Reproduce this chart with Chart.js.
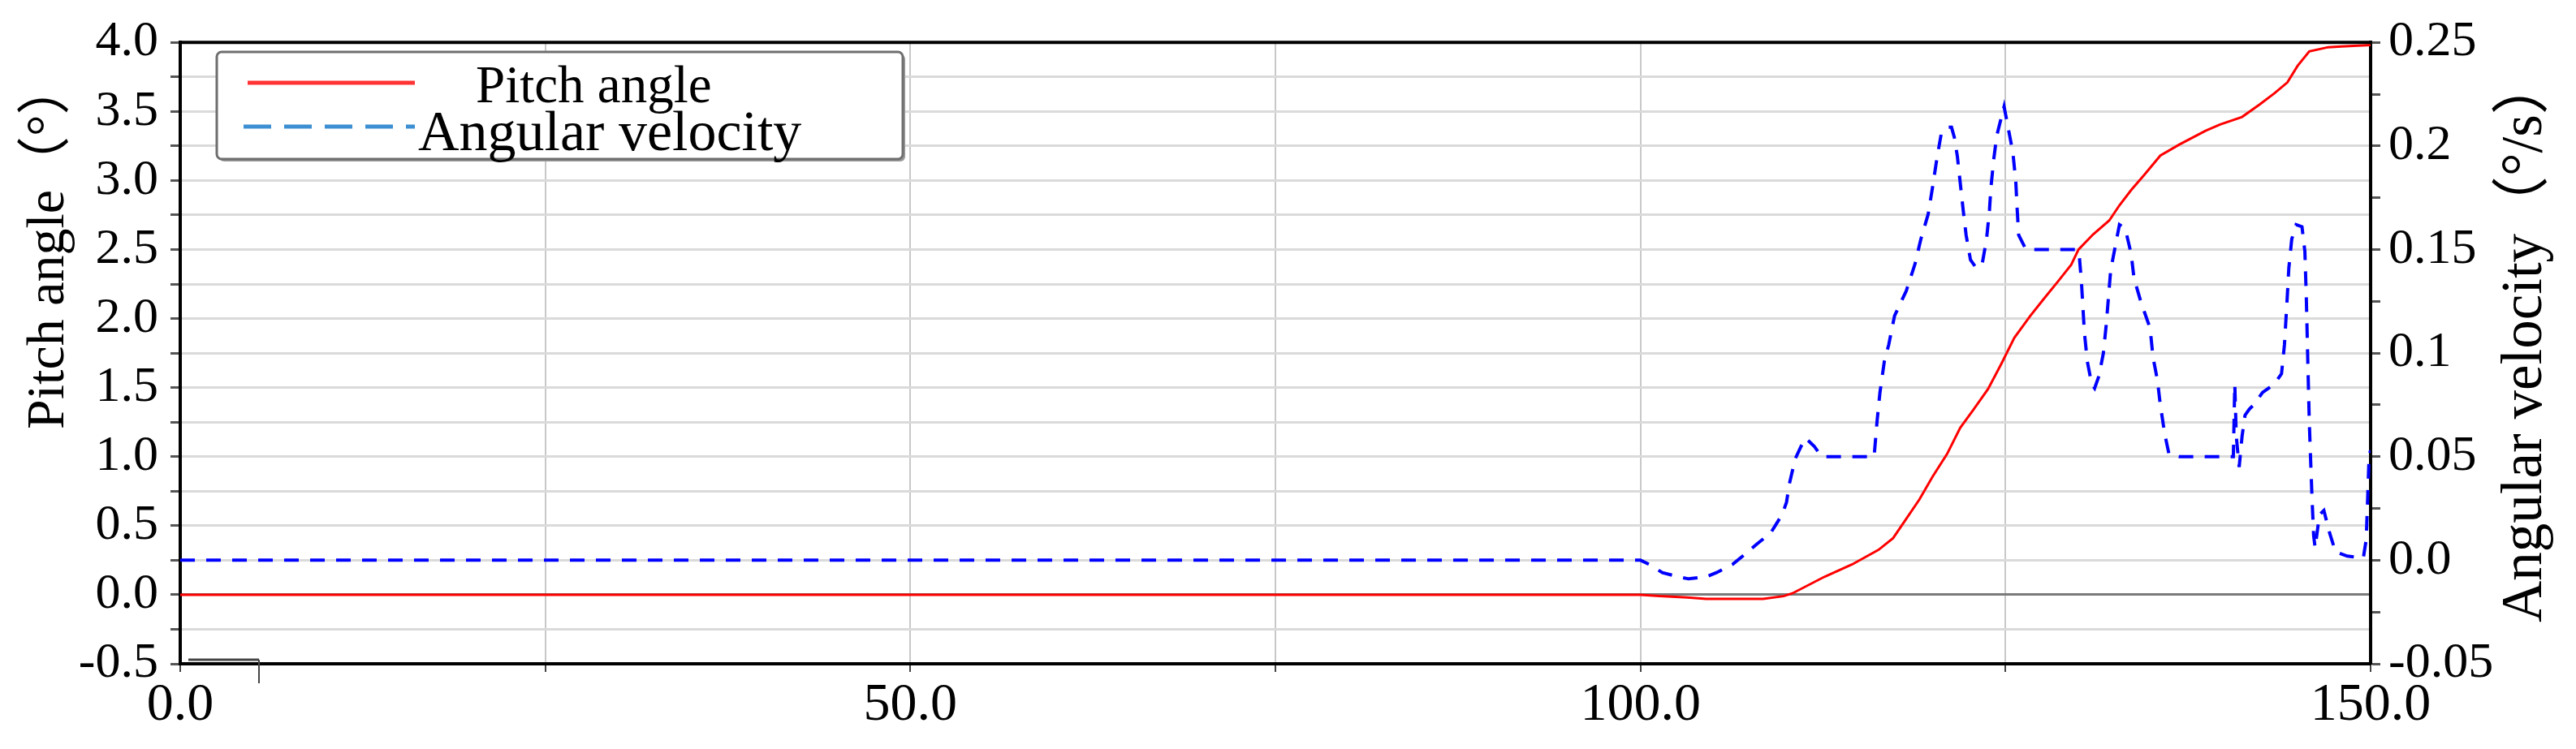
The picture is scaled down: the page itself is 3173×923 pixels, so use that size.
<!DOCTYPE html>
<html>
<head>
<meta charset="utf-8">
<script src="https://cdn.jsdelivr.net/npm/chart.js@4.4.0/dist/chart.umd.min.js"></script>
<style>
  html, body { margin: 0; padding: 0; background: #fff; overflow: hidden; }
  canvas { display: block; }
</style>
</head>
<body>
<canvas id="chart" width="3173" height="923"></canvas>
<script>
/* ── Pitch angle / angular velocity ─────────────────────────────────────────── */

// ── Data ─────────────────────────────────────────────────────────────────────
const pitchTime = [0, 100, 101.3, 103.2, 104.5, 108.4, 109.8, 110.4, 112.6, 114.5,
  116.3, 117.3, 118.2, 119.1, 120.0, 121.0, 121.9, 122.8, 123.8, 124.7,
  125.6, 126.7, 127.6, 128.6, 129.5, 130.0, 131.0, 132.1, 132.8, 133.6,
  134.5, 135.6, 136.9, 138.7, 139.7, 141.2, 142.4, 143.4, 144.3, 145.0,
  145.8, 147.1, 148.0, 150.0];
const pitchAngle = [0, 0, -0.01, -0.02, -0.03, -0.03, -0.01, 0.01, 0.13, 0.22,
  0.325, 0.41, 0.55, 0.69, 0.855, 1.02, 1.21, 1.34, 1.49, 1.67,
  1.86, 2.02, 2.14, 2.27, 2.39, 2.5, 2.61, 2.71, 2.82, 2.93,
  3.04, 3.18, 3.26, 3.36, 3.405, 3.46, 3.55, 3.63, 3.71, 3.83,
  3.935, 3.965, 3.97, 3.98];

const velTime = [0, 100, 100.6, 101.5, 102.6, 103.3, 104.5, 105.2, 106.3, 107.0,
  108.0, 108.9, 109.7, 110.0, 110.2, 110.6, 111.0, 111.3, 111.9, 112.4,
  116.0, 116.2, 116.4, 116.7, 117.0, 117.4, 118.2, 118.8, 119.2, 119.7,
  120.0, 120.3, 120.6, 121.0, 121.3, 121.5, 121.7, 121.9, 122.1, 122.3,
  122.6, 123.0, 123.4, 123.7, 123.9, 124.0, 124.2, 124.4, 124.9, 125.2,
  125.5, 125.7, 125.8, 125.9, 126.4, 129.9, 130.05, 130.2, 130.3, 130.4,
  130.6, 130.9, 131.1, 131.4, 131.7, 131.9, 132.05, 132.2, 132.5, 132.8,
  133.2, 133.6, 133.8, 134.3, 134.9, 135.1, 135.4, 135.6, 135.9, 136.2,
  136.9, 140.6, 140.7, 140.8, 141.0, 141.2, 141.4, 141.7, 142.0, 142.6,
  143.4, 143.9, 144.1, 144.2, 144.3, 144.4, 144.6, 144.9, 145.3, 145.5,
  145.6, 145.7, 145.8, 145.9, 146.0, 146.1, 146.2, 146.5, 146.8, 147.2,
  147.6, 148.4, 149.5, 149.7, 149.8, 149.9, 150.0];
const angVel = [0, 0, -0.002, -0.006, -0.008, -0.009, -0.008, -0.006, -0.002, 0.002,
  0.008, 0.013, 0.022, 0.028, 0.037, 0.049, 0.055, 0.059, 0.055, 0.05,
  0.05, 0.067, 0.081, 0.096, 0.104, 0.118, 0.13, 0.143, 0.155, 0.167,
  0.18, 0.194, 0.206, 0.209, 0.209, 0.204, 0.195, 0.182, 0.169, 0.157,
  0.145, 0.141, 0.143, 0.155, 0.169, 0.18, 0.194, 0.205, 0.219, 0.208,
  0.197, 0.183, 0.169, 0.157, 0.15, 0.15, 0.147, 0.134, 0.122, 0.11,
  0.096, 0.085, 0.083, 0.089, 0.1, 0.114, 0.127, 0.14, 0.151, 0.162,
  0.16, 0.148, 0.136, 0.124, 0.112, 0.098, 0.087, 0.075, 0.061, 0.051,
  0.05, 0.05, 0.085, 0.06, 0.045, 0.06, 0.07, 0.073, 0.075, 0.081,
  0.085, 0.09, 0.104, 0.116, 0.128, 0.141, 0.155, 0.162, 0.161, 0.149,
  0.126, 0.096, 0.067, 0.047, 0.028, 0.012, 0.006, 0.022, 0.024, 0.013,
  0.004, 0.002, 0.001, 0.01, 0.03, 0.051, 0.053];

const seriesNames = ['Pitch angle', 'Angular velocity'];

// ── Tick labels ───────────────────────────────────────────────────────────────
const xTickValues  = [0, 50, 100, 150];
const xTickLabels  = ['0.0', '50.0', '100.0', '150.0'];
const leftTickValues = [-0.5, 0, 0.5, 1, 1.5, 2, 2.5, 3, 3.5, 4];
const leftTickLabels = ['-0.5', '0.0', '0.5', '1.0', '1.5', '2.0', '2.5', '3.0', '3.5', '4.0'];
const rightTickValues = [-0.05, 0, 0.05, 0.1, 0.15, 0.2, 0.25];
const rightTickLabels = ['-0.05', '0.0', '0.05', '0.1', '0.15', '0.2', '0.25'];

const leftTitle  = 'Pitch angle（°）';
const rightTitle = 'Angular velocity（°/s）';

// ── Styles ────────────────────────────────────────────────────────────────────
const FONT_FAMILY = "'Liberation Serif', 'Noto Sans CJK SC', serif";
const RED  = '#ff0000';
const BLUE = '#0000ff';
const LEGEND_BLUE = '#3c8fd2';

function pickLabel(values, labels) {
  return v => {
    const i = values.findIndex(t => Math.abs(t - v) < 1e-6);
    return i >= 0 ? labels[i] : '';
  };
}

// ── Frame, axis titles and boxed legend ───────────────────────────────────────
const decorPlugin = {
  id: 'decor',
  afterDraw(chart) {
    const { ctx, chartArea: a } = chart;
    ctx.save();

    // top edge of the frame
    ctx.strokeStyle = '#000';
    ctx.lineWidth = 4;
    ctx.beginPath();
    ctx.moveTo(a.left - 2, a.top);
    ctx.lineTo(a.right + 2, a.top);
    ctx.stroke();

    // stray stub near the origin, as in the original export
    ctx.strokeStyle = '#444';
    ctx.lineWidth = 3;
    ctx.beginPath();
    ctx.moveTo(a.left + 10, a.bottom - 5);
    ctx.lineTo(a.left + 97, a.bottom - 5);
    ctx.stroke();
    ctx.lineWidth = 2;
    ctx.beginPath();
    ctx.moveTo(a.left + 97, a.bottom - 5);
    ctx.lineTo(a.left + 97, a.bottom + 24);
    ctx.stroke();

    // axis titles (read bottom to top)
    ctx.fillStyle = '#000';
    ctx.textAlign = 'left';
    ctx.textBaseline = 'alphabetic';

    ctx.save();
    ctx.font = `66px ${FONT_FAMILY}`;
    ctx.translate(78, 529);
    ctx.rotate(-Math.PI / 2);
    ctx.fillText(leftTitle, 0, 0);
    ctx.restore();

    ctx.save();
    ctx.font = `71px ${FONT_FAMILY}`;
    ctx.translate(3130, 767);
    ctx.rotate(-Math.PI / 2);
    ctx.fillText(rightTitle, 0, 0);
    ctx.restore();

    // legend box
    const bx = 267, by = 64, bw = 845, bh = 132;
    ctx.fillStyle = '#9a9a9a';
    ctx.beginPath();
    ctx.roundRect(bx + 3, by + 3, bw, bh, 6);
    ctx.fill();
    ctx.fillStyle = '#fff';
    ctx.strokeStyle = '#6e6e6e';
    ctx.lineWidth = 3;
    ctx.beginPath();
    ctx.roundRect(bx, by, bw, bh, 6);
    ctx.fill();
    ctx.stroke();

    // legend samples
    ctx.lineWidth = 5;
    ctx.strokeStyle = '#ff3333';
    ctx.beginPath();
    ctx.moveTo(305, 102);
    ctx.lineTo(511, 102);
    ctx.stroke();

    ctx.strokeStyle = LEGEND_BLUE;
    ctx.setLineDash([34, 16]);
    ctx.beginPath();
    ctx.moveTo(300, 156);
    ctx.lineTo(511, 156);
    ctx.stroke();
    ctx.setLineDash([]);

    // legend text
    ctx.fillStyle = '#000';
    ctx.font = `65px ${FONT_FAMILY}`;
    ctx.fillText(chart.data.datasets[0].label, 586, 126);
    ctx.font = `70px ${FONT_FAMILY}`;
    ctx.fillText(chart.data.datasets[1].label, 515, 185);

    ctx.restore();
  },
};

// ── Chart ─────────────────────────────────────────────────────────────────────
const ctx = document.getElementById('chart');

new Chart(ctx, {
  type: 'line',
  data: {
    datasets: [
      {
        label          : seriesNames[0],
        data           : pitchTime.map((t, i) => ({ x: t, y: pitchAngle[i] })),
        yAxisID        : 'y',
        borderColor    : RED,
        borderWidth    : 3,
        pointRadius    : 0,
        tension        : 0,
      },
      {
        label          : seriesNames[1],
        data           : velTime.map((t, i) => ({ x: t, y: angVel[i] })),
        yAxisID        : 'y1',
        borderColor    : BLUE,
        borderWidth    : 4,
        borderDash     : [18, 14],
        pointRadius    : 0,
        tension        : 0,
      },
    ],
  },
  options: {
    responsive: false,
    animation : false,
    devicePixelRatio: 1,
    layout: { padding: { top: 40, left: 0, right: 0, bottom: 0 } },
    plugins: { legend: { display: false }, tooltip: { enabled: false } },
    scales: {
      x: {
        type: 'linear',
        min : 0,
        max : 150,
        afterFit: s => { s.height = 105; },
        border: { display: true, color: '#000', width: 4 },
        grid: {
          color    : '#c8c8c8',
          lineWidth: 2,
          tickColor: '#444',
          tickLength: 10,
          tickWidth: 2,
        },
        ticks: {
          stepSize: 25,
          padding : 2,
          maxRotation: 0,
          autoSkip: false,
          color   : '#000',
          font    : { family: FONT_FAMILY, size: 66 },
          callback: pickLabel(xTickValues, xTickLabels),
        },
      },
      y: {
        position: 'left',
        min : -0.5,
        max : 4,
        afterFit: s => { s.width = 222; },
        border: { display: true, color: '#000', width: 4 },
        grid: {
          color    : c => (c.tick && Math.abs(c.tick.value) < 1e-9 ? '#7a7a7a' : '#dadada'),
          lineWidth: 3,
          tickColor: '#555',
          tickLength: 12,
          tickWidth: 3,
        },
        ticks: {
          stepSize: 0.25,
          padding : 15,
          autoSkip: false,
          color   : '#000',
          font    : { family: FONT_FAMILY, size: 62 },
          callback: pickLabel(leftTickValues, leftTickLabels),
        },
      },
      y1: {
        position: 'right',
        min : -0.05,
        max : 0.25,
        afterFit: s => { s.width = 253; },
        border: { display: true, color: '#000', width: 4 },
        grid: {
          drawOnChartArea: false,
          tickColor: '#555',
          tickLength: 12,
          tickWidth: 3,
        },
        ticks: {
          stepSize: 0.025,
          padding : 10,
          autoSkip: false,
          color   : '#000',
          font    : { family: FONT_FAMILY, size: 62 },
          callback: pickLabel(rightTickValues, rightTickLabels),
        },
      },
    },
  },
  plugins: [decorPlugin],
});
</script>
</body>
</html>
